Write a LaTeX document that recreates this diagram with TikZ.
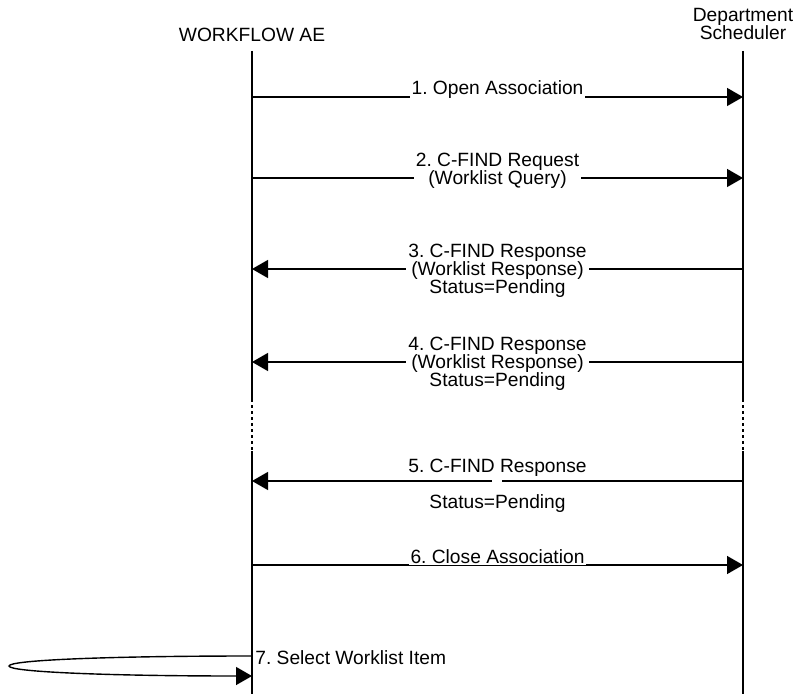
\documentclass[tikz,border=0pt]{standalone}
\usepackage{fontspec}
\setmainfont{Liberation Sans}
\usetikzlibrary{arrows.meta}
\frenchspacing

\begin{document}
\begin{tikzpicture}[
		x=0.5pt, y=-0.5pt,
		font=\fontsize{9.6}{9}\selectfont,
		life/.style={line width=0.75pt},
		msg/.style={line width=0.7pt, -{Triangle[length=8pt,width=9pt]}},
		lbl/.style={fill=white, align=center, inner sep=1pt}
	]
	\useasboundingbox (0,0) rectangle (796,694);

	% heads
	\node (wf) at (252,34.5) {WORKFLOW AE};
	\node[align=center] (ds) at (743,24) {Department\\Scheduler};

	% lifelines
	\coordinate (wtop) at (252,51);
	\coordinate (wcut) at (252,399);
	\coordinate (wres) at (252,451);
	\coordinate (wbot) at (252,694);
	\coordinate (dtop) at (743,51);
	\coordinate (dcut) at (743,399);
	\coordinate (dres) at (743,451);
	\coordinate (dbot) at (743,694);
	\draw[life] (wtop) -- (wcut);
	\draw[life, dash pattern=on 1.5pt off 1.5pt] (wcut) -- (wres);
	\draw[life] (wres) -- (wbot);
	\draw[life] (dtop) -- (dcut);
	\draw[life, dash pattern=on 1.5pt off 1.5pt] (dcut) -- (dres);
	\draw[life] (dres) -- (dbot);

	% messages
	\coordinate (w1) at (252,97);
	\coordinate (d1) at (743,97);
	\draw[msg] (w1) -- (d1)
		node[lbl, midway, anchor=base, yshift=1pt] (m1) {1. Open Association};

	\coordinate (w2) at (252,178);
	\coordinate (d2) at (743,178);
	\draw[msg] (w2) -- (d2)
		node[lbl, midway, yshift=3.5pt] (m2) {2. C-FIND Request\\(Worklist Query)};

	\coordinate (w3) at (252,269);
	\coordinate (d3) at (743,269);
	\draw[msg] (d3) -- (w3)
		node[lbl, midway, yshift=-1pt] (m3) {3. C-FIND Response\\(Worklist Response)\\Status=Pending};

	\coordinate (w4) at (252,362);
	\coordinate (d4) at (743,362);
	\draw[msg] (d4) -- (w4)
		node[lbl, midway, yshift=-1pt] (m4) {4. C-FIND Response\\(Worklist Response)\\Status=Pending};

	\coordinate (w5) at (252,481);
	\coordinate (d5) at (743,481);
	\coordinate (g5r) at (502,481);
	\coordinate (g5l) at (492,481);
	\draw[life, line width=0.7pt] (d5) -- (g5r);
	\draw[msg] (g5l) -- (w5);
	\node[anchor=base] (m5) at (497.5,472) {5. C-FIND Response};
	\node[anchor=base] (s5) at (497.5,508) {Status=Pending};

	\coordinate (w6) at (252,565);
	\coordinate (d6) at (743,565);
	\draw[msg] (w6) -- (d6)
		node[lbl, midway, anchor=base, yshift=1pt] (m6) {6. Close Association};

	% self message
	\coordinate (w7a) at (252,656);
	\coordinate (l7) at (9,666);
	\coordinate (w7b) at (252,676);
	\draw[msg] (w7a) .. controls (110,656) and (9,660) .. (l7)
		.. controls (9,672) and (110,676) .. (w7b);
	\node[anchor=west, inner sep=1pt] (m7) at (253,658) {7. Select Worklist Item};
\end{tikzpicture}
\end{document}
